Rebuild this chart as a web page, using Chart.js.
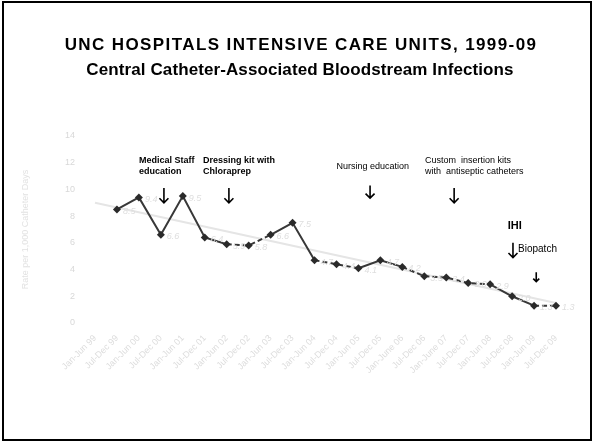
<!DOCTYPE html>
<html>
<head>
<meta charset="utf-8">
<script src="https://cdn.jsdelivr.net/npm/chart.js@4/dist/chart.umd.min.js"></script>
<style>
  html, body { margin: 0; padding: 0; background: #fff; }
  #wrap { position: relative; width: 593px; height: 445px; }
  #frame { position: absolute; left: 2px; top: 1px; width: 586px; height: 436px; border: 2px solid #000; pointer-events: none; }
  canvas { position: absolute; left: 0; top: 0; }
</style>
</head>
<body>
<div id="wrap">
  <canvas id="c" width="593" height="445"></canvas>
  <div id="frame"></div>
</div>
<script>
// ---- data ----
const categories = [
  "Jan-Jun 99", "Jul-Dec 99", "Jan-Jun 00", "Jul-Dec 00", "Jan-Jun 01", "Jul-Dec 01",
  "Jan-Jun 02", "Jul-Dec 02", "Jan-Jun 03", "Jul-Dec 03", "Jan-Jun 04", "Jul-Dec 04",
  "Jan-Jun 05", "Jul-Dec 05", "Jan-June 06", "Jul-Dec 06", "Jan-June 07", "Jul-Dec 07",
  "Jan-Jun 08", "Jul-Dec 08", "Jan-Jun 09", "Jul-Dec 09"
];
const infectionRate = [
  null, 8.5, 9.4, 6.6, 9.5, 6.4, 5.9, 5.8, 6.6, 7.5, 4.7,
  4.4, 4.1, 4.7, 4.2, 3.5, 3.4, 3.0, 2.9, 2.0, 1.3, 1.3
];
const trendRate = [
  9.0, null, null, null, null, null, null, null, null, null, null,
  null, null, null, null, null, null, null, null, null, null, 1.5
];
const yTicks = [0, 2, 4, 6, 8, 10, 12, 14];
const titleLines = ['UNC HOSPITALS INTENSIVE CARE UNITS, 1999-09', 'Central Catheter-Associated Bloodstream Infections'];
const yAxisTitle = 'Rate per 1,000 Catheter Days';

// interventions (category position, value position)
const notes = [
  { lines: ["Medical Staff", "education"], x: 2.0, y: 12.2, bold: true },
  { lines: ["Dressing kit with", "Chloraprep"], x: 4.92, y: 12.2, bold: true },
  { lines: ["Nursing education"], x: 11.0, y: 11.75, bold: false },
  { lines: ["Custom  insertion kits", "with  antiseptic catheters"], x: 15.03, y: 12.2, bold: false },
  { lines: ["IHI"], x: 18.8, y: 7.3, bold: true, size: 11 },
  { lines: ["Biopatch"], x: 19.27, y: 5.5, bold: false, size: 10 }
];
const arrows = [
  { x: 3.14, from: 10.1, to: 9.0 },
  { x: 6.1, from: 10.1, to: 9.0 },
  { x: 12.53, from: 10.3, to: 9.35 },
  { x: 16.36, from: 10.1, to: 9.0 },
  { x: 19.04, from: 6.0, to: 4.9 },
  { x: 20.1, from: 3.8, to: 3.1, small: true }
];
const dashedSegments = [6, 7, 10, 11, 14, 15, 16, 17, 20];

const FONT = "'Liberation Sans', Arial, sans-serif";

const titlePlugin = {
  id: 'slideTitle',
  beforeDraw(chart) {
    const ctx = chart.ctx;
    ctx.save();
    ctx.fillStyle = '#000';
    ctx.font = 'bold 17px ' + FONT;
    ctx.textAlign = 'center';
    ctx.textBaseline = 'middle';
    ctx.letterSpacing = '1.4px';
    ctx.fillText(titleLines[0], 301, 45);
    ctx.letterSpacing = '0.1px';
    ctx.fillText(titleLines[1], 300, 70);
    ctx.restore();
  }
};

const annotationPlugin = {
  id: 'notes',
  afterDatasetsDraw(chart) {
    const ctx = chart.ctx;
    const xs = chart.scales.x, ys = chart.scales.y;
    ctx.save();
    // data labels
    const meta = chart.getDatasetMeta(0);
    ctx.fillStyle = '#dedede';
    ctx.font = 'italic 9px ' + FONT;
    ctx.textBaseline = 'middle';
    ctx.textAlign = 'left';
    meta.data.forEach((pt, i) => {
      const v = infectionRate[i];
      if (v === null) return;
      ctx.fillText(v.toFixed(1), pt.x + 6, pt.y + 2);
    });
    // notes
    ctx.fillStyle = '#000';
    notes.forEach(n => {
      const size = n.size || 9;
      ctx.font = (n.bold ? 'bold ' : '') + size + 'px ' + FONT;
      const px = xs.getPixelForValue(n.x);
      const py = ys.getPixelForValue(n.y);
      n.lines.forEach((t, k) => ctx.fillText(t, px, py + k * 11));
    });
    // arrows
    ctx.strokeStyle = '#000';
    ctx.lineWidth = 1.6;
    arrows.forEach(a => {
      const px = xs.getPixelForValue(a.x);
      const y1 = ys.getPixelForValue(a.from), y2 = ys.getPixelForValue(a.to);
      const h = a.small ? 3 : 4.5;
      ctx.beginPath();
      ctx.moveTo(px, y1); ctx.lineTo(px, y2);
      ctx.moveTo(px - h, y2 - h); ctx.lineTo(px, y2); ctx.lineTo(px + h, y2 - h);
      ctx.stroke();
    });
    ctx.restore();
  }
};

new Chart(document.getElementById('c'), {
  type: 'line',
  data: {
    labels: categories,
    datasets: [
      {
        label: 'CLABSI rate',
        data: infectionRate,
        borderColor: '#383838',
        backgroundColor: '#2a2a2a',
        borderWidth: 2,
        pointStyle: 'rectRot',
        pointRadius: 4,
        pointBorderWidth: 0,
        tension: 0,
        spanGaps: false,
        segment: {
          borderDash: c => dashedSegments.includes(c.p0DataIndex) ? [5, 3] : undefined
        },
        order: 0
      },
      {
        label: 'Trend',
        data: trendRate,
        borderColor: '#e5e5e5',
        borderWidth: 2,
        pointRadius: 0,
        spanGaps: true,
        order: 1
      }
    ]
  },
  options: {
    responsive: false,
    animation: false,
    layout: { padding: { left: 0, right: 37, top: 136, bottom: 62 } },
    plugins: {
      legend: { display: false },
      tooltip: { enabled: false },
      title: { display: false }
    },
    scales: {
      x: {
        offset: false,
        afterFit: s => { s.height = 60; },
        grid: { display: false },
        border: { display: false },
        ticks: {
          autoSkip: false, maxRotation: 45, minRotation: 45,
          color: '#dcdcdc', font: { family: FONT, size: 9 }, padding: 2
        }
      },
      y: {
        min: 0, max: 14,
        afterBuildTicks: s => { s.ticks = yTicks.map(v => ({ value: v })); },
        afterFit: s => { s.width = 95; },
        grid: { display: false },
        border: { display: false },
        title: {
          display: true, text: yAxisTitle,
          color: '#e2e2e2', font: { family: FONT, size: 9 }, padding: { top: 20, bottom: 4 }
        },
        ticks: { color: '#d8d8d8', font: { family: FONT, size: 9 }, padding: 12 }
      }
    }
  },
  plugins: [titlePlugin, annotationPlugin]
});
</script>
</body>
</html>
